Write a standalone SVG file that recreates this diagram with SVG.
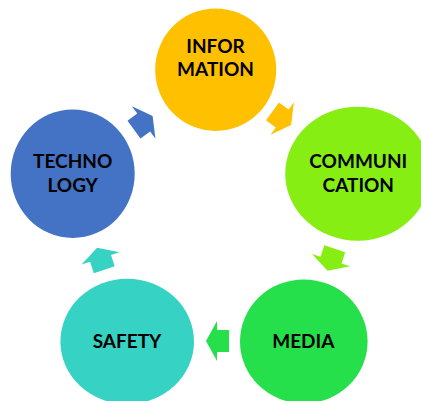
<svg xmlns="http://www.w3.org/2000/svg" width="421" height="401" viewBox="0 0 421 401">
<style>
.lbl{font-family:Lato,"Liberation Sans",Arial,sans-serif;font-weight:700;font-size:19px;fill:#000;text-anchor:middle}
</style>
<defs>
<path id="arr" d="M11.5,0 L0.5,-20 L0.5,-11 L-11.5,-11 L-11.5,11 L0.5,11 L0.5,20 Z"/>
</defs>
<rect width="421" height="401" fill="#fff"/>
<g id="connectors">
<use href="#arr" fill="#FFC000" transform="translate(281.8,118.2) rotate(36)"/>
<use href="#arr" fill="#86EE12" transform="translate(331.2,259.7) rotate(108)"/>
<use href="#arr" fill="#25E04A" transform="translate(217.5,341) rotate(180)"/>
<use href="#arr" fill="#36D3C4" transform="translate(100.7,258.8) rotate(252)"/>
<use href="#arr" fill="#4472C4" transform="translate(143.3,122.8) rotate(324)"/>
</g>
<g id="information">
<ellipse cx="215.7" cy="69.7" rx="60.5" ry="61.3" fill="#FFC000"/>
<text class="lbl" x="215.5" y="52.7">INFOR</text>
<text class="lbl" x="215.5" y="76">MATION</text>
</g>
<g id="communication">
<ellipse cx="357.7" cy="173.7" rx="72.5" ry="67" fill="#86EE12"/>
<text class="lbl" x="358.3" y="167.5">COMMUNI</text>
<text class="lbl" x="358.3" y="191.5">CATION</text>
</g>
<g id="media">
<ellipse cx="303.8" cy="341.4" rx="63.8" ry="62" fill="#25E04A"/>
<text class="lbl" x="303.3" y="348">MEDIA</text>
</g>
<g id="safety">
<ellipse cx="127.2" cy="341.4" rx="66.8" ry="62.7" fill="#36D3C4"/>
<text class="lbl" x="127" y="348">SAFETY</text>
</g>
<g id="technology">
<ellipse cx="72.7" cy="173.7" rx="62" ry="64.3" fill="#4472C4"/>
<text class="lbl" x="72.7" y="167.5">TECHNO</text>
<text class="lbl" x="72.7" y="191.5">LOGY</text>
</g>
</svg>
